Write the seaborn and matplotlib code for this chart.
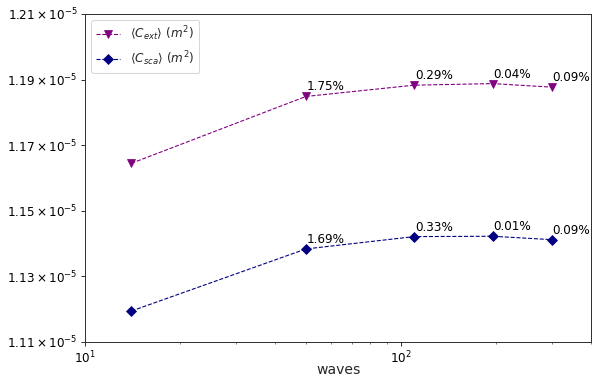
import matplotlib
matplotlib.use("Agg")
import matplotlib.pyplot as plt
import seaborn as sns
import numpy as np
import pandas as pd

waves = [14, 50, 110, 195, 300]
c_ext = [1.16448e-5, 1.18486e-5, 1.18830e-5, 1.18878e-5, 1.18771e-5]
c_sca = [1.11945e-5, 1.13837e-5, 1.14213e-5, 1.14224e-5, 1.14121e-5]
ext_pct = ["1.75%", "0.29%", "0.04%", "0.09%"]
sca_pct = ["1.69%", "0.33%", "0.01%", "0.09%"]
ytick_vals = [1.11e-5, 1.13e-5, 1.15e-5, 1.17e-5, 1.19e-5, 1.21e-5]
ytick_labels = [r"$1.11\times10^{-5}$", r"$1.13\times10^{-5}$", r"$1.15\times10^{-5}$",
                r"$1.17\times10^{-5}$", r"$1.19\times10^{-5}$", r"$1.21\times10^{-5}$"]

sns.set_style("ticks")
plt.rcParams["font.family"] = ["DejaVu Sans"]

df = pd.DataFrame({"waves": waves, "ext": c_ext, "sca": c_sca})

fig = plt.figure(figsize=(593 / 72, 383 / 72), dpi=72)
ax = fig.add_axes([85.3 / 593, 1 - 342 / 383, (591 - 85.3) / 593, (342 - 14) / 383])

sns.lineplot(data=df, x="waves", y="ext", ax=ax, color="purple", marker="v",
             markersize=8, linestyle="--", linewidth=1.1, markeredgecolor="purple",
             label=r"$\langle C_{ext}\rangle\ (m^2)$")
sns.lineplot(data=df, x="waves", y="sca", ax=ax, color="navy", marker="D",
             markersize=7, linestyle="--", linewidth=1.1, markeredgecolor="navy",
             label=r"$\langle C_{sca}\rangle\ (m^2)$")

for i, t in enumerate(ext_pct):
    ax.annotate(t, (waves[i + 1], c_ext[i + 1]), xytext=(1, 6), textcoords="offset points",
                fontsize=12, color="black")
for i, t in enumerate(sca_pct):
    ax.annotate(t, (waves[i + 1], c_sca[i + 1]), xytext=(1, 6), textcoords="offset points",
                fontsize=12, color="black")

ax.set_xscale("log")
ax.set_xlim(10, 400)
ax.set_ylim(1.11e-5, 1.21e-5)
ax.set_yticks(ytick_vals)
ax.set_yticklabels(ytick_labels)
ax.tick_params(axis="both", labelsize=12, colors="black")
ax.tick_params(axis="both", which="major", length=4)
for s in ax.spines.values():
    s.set_color("#333333")
    s.set_linewidth(1)
ax.set_xlabel("waves", fontsize=14, labelpad=-3)
ax.set_ylabel("")
ax.legend(loc="upper left", fontsize=12, frameon=True)

fig.savefig("out.png", dpi=72)
